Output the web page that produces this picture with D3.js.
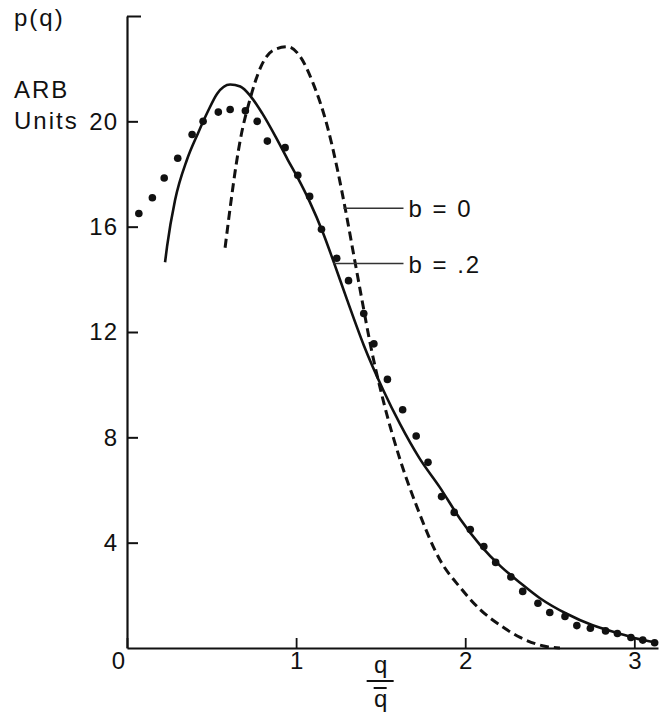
<!DOCTYPE html>
<html>
<head>
<meta charset="utf-8">
<script src="https://cdn.jsdelivr.net/npm/d3@7"></script>
<style>
  body { margin: 0; background: #fff; }
  svg text { font-family: "Liberation Sans", Arial, sans-serif; fill: #111; }
</style>
</head>
<body>
<div id="chart"></div>
<script>
// measured points, q / q-bar  vs  p(q)
const dotX = [0.07, 0.15, 0.22, 0.30, 0.385, 0.45, 0.54, 0.61, 0.70, 0.77, 0.83, 0.935, 1.01, 1.08,
  1.15, 1.24, 1.31, 1.40, 1.46, 1.54, 1.63, 1.71, 1.78, 1.86, 1.935, 2.03, 2.11, 2.18, 2.27, 2.34,
  2.43, 2.50, 2.59, 2.66, 2.74, 2.83, 2.90, 2.98, 3.05, 3.12];
const dotY = [16.5, 17.1, 17.85, 18.6, 19.5, 20.0, 20.35, 20.45, 20.4, 20.0, 19.25, 19.0, 17.95, 17.15,
  15.9, 14.8, 13.95, 12.7, 11.55, 10.2, 9.05, 8.05, 7.05, 5.75, 5.15, 4.5, 3.85, 3.25, 2.7, 2.15,
  1.7, 1.35, 1.2, 0.85, 0.75, 0.65, 0.55, 0.4, 0.3, 0.2];

// b = .2 (solid)
const solidX = [0.225, 0.237, 0.284, 0.355, 0.42, 0.48, 0.533, 0.61, 0.67, 0.73, 0.80, 0.88, 0.95, 1.01,
  1.08, 1.16, 1.22, 1.30, 1.40, 1.515, 1.615, 1.73, 1.85, 1.97, 2.09, 2.21, 2.33, 2.44, 2.60, 2.75,
  2.90, 3.05, 3.14];
const solidY = [14.65, 15.25, 17.0, 18.55, 19.55, 20.4, 21.05, 21.4, 21.32, 20.96, 20.3, 19.4, 18.55, 17.85,
  16.95, 15.75, 14.7, 13.25, 11.5, 9.8, 8.5, 7.2, 6.1, 4.9, 3.9, 3.1, 2.45, 1.9, 1.3, 0.87,
  0.57, 0.3, 0.19];

// b = 0 (dashed)
const dashX = [0.58, 0.67, 0.73, 0.79, 0.865, 0.95, 1.025, 1.10, 1.185, 1.245, 1.29, 1.35, 1.39, 1.44,
  1.515, 1.615, 1.715, 1.85, 1.97, 2.09, 2.21, 2.325, 2.485, 2.56];
const dashY = [15.2, 19.3, 20.9, 22.05, 22.7, 22.83, 22.45, 21.45, 19.8, 18.15, 16.7, 14.6, 13.2, 11.5,
  9.4, 7.15, 5.35, 3.35, 2.3, 1.45, 0.85, 0.4, 0.05, 0];

const yTicks = [4, 8, 12, 16, 20, 24];
const xTicks = [0, 1, 2, 3];

const labels = ["b = 0", "b = .2"];
const labelY = [16.7, 14.6];
const labelFrom = [1.28, 1.22];
const labelTo = 1.635;

const width = 668, height = 716;

const svg = d3.select("#chart").append("svg")
  .attr("width", width)
  .attr("height", height);

const x = d3.scaleLinear().domain([0, 3.14]).range([127, 658]);
const y = d3.scaleLinear().domain([0, 24]).range([648, 16]);

// axes
const yAxis = svg.append("g")
  .attr("transform", `translate(${x(0)},0)`)
  .call(d3.axisLeft(y).tickValues(yTicks).tickSize(-12).tickSizeOuter(0).tickPadding(9)
    .tickFormat(d => d === 24 ? "" : d));
yAxis.select(".domain").attr("stroke", "#111").attr("stroke-width", 2.2);
yAxis.selectAll(".tick line").attr("stroke", "#111").attr("stroke-width", 2)
  .attr("x2", d => d === 24 ? 14 : 11);
yAxis.selectAll(".tick text").attr("font-size", 24).attr("letter-spacing", 1)
  .attr("font-family", "Liberation Sans, Arial, sans-serif").attr("fill", "#111");

const xAxis = svg.append("g")
  .attr("transform", `translate(0,${y(0)})`)
  .call(d3.axisBottom(x).tickValues(xTicks).tickSize(-10).tickSizeOuter(0).tickPadding(4)
    .tickFormat(d3.format("d")));
xAxis.select(".domain").attr("stroke", "#111").attr("stroke-width", 2.2);
xAxis.selectAll(".tick line").attr("stroke", "#111").attr("stroke-width", 1.8);
xAxis.selectAll(".tick text").attr("font-size", 24)
  .attr("font-family", "Liberation Sans, Arial, sans-serif").attr("fill", "#111")
  .attr("dx", d => d === 0 ? -9 : 0);

// axis titles
const titleFont = { size: 24, spacing: 2 };
[["p(q)", 26], ["ARB", 98], ["Units", 129]].forEach(([t, yy]) => {
  svg.append("text").attr("x", 14).attr("y", yy)
    .attr("font-size", titleFont.size).attr("letter-spacing", titleFont.spacing).text(t);
});

const fx = x(1.5);
svg.append("text").attr("x", fx).attr("y", 673).attr("text-anchor", "middle")
  .attr("font-size", 24).text("q");
svg.append("line").attr("x1", fx - 14).attr("x2", fx + 13).attr("y1", 681).attr("y2", 681)
  .attr("stroke", "#111").attr("stroke-width", 2);
svg.append("line").attr("x1", fx - 7).attr("x2", fx + 6).attr("y1", 688).attr("y2", 688)
  .attr("stroke", "#111").attr("stroke-width", 2);
svg.append("text").attr("x", fx).attr("y", 707).attr("text-anchor", "middle")
  .attr("font-size", 24).text("q");

// curves
const line = d3.line().x(d => x(d[0])).y(d => y(d[1])).curve(d3.curveMonotoneX);

svg.append("path")
  .datum(solidX.map((v, i) => [v, solidY[i]]))
  .attr("d", line)
  .attr("fill", "none").attr("stroke", "#111").attr("stroke-width", 2.6);

svg.append("path")
  .datum(dashX.map((v, i) => [v, dashY[i]]))
  .attr("d", line)
  .attr("fill", "none").attr("stroke", "#111").attr("stroke-width", 3)
  .attr("stroke-dasharray", "9,5");

svg.append("g")
  .selectAll("circle")
  .data(dotX.map((v, i) => [v, dotY[i]]))
  .join("circle")
  .attr("cx", d => x(d[0]))
  .attr("cy", d => y(d[1]))
  .attr("r", 3.8)
  .attr("fill", "#111");

// leader labels
labels.forEach((t, i) => {
  svg.append("line")
    .attr("x1", x(labelFrom[i])).attr("x2", x(labelTo))
    .attr("y1", y(labelY[i])).attr("y2", y(labelY[i]))
    .attr("stroke", "#333").attr("stroke-width", 1.5);
  svg.append("text")
    .attr("x", x(labelTo) + 5).attr("y", y(labelY[i]) + 9)
    .attr("font-size", 24).attr("letter-spacing", 2)
    .text(t);
});
</script>
</body>
</html>
